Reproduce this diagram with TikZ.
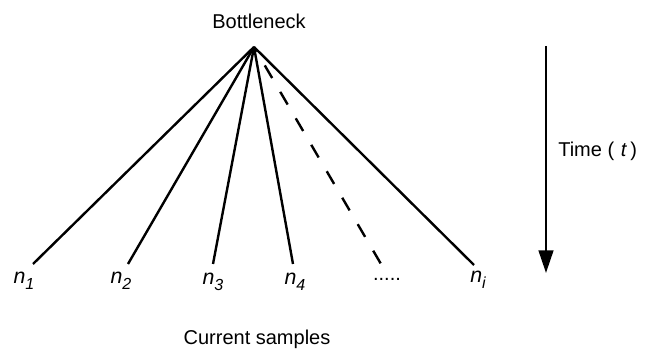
\documentclass[tikz,border=0pt]{standalone}
\usepackage{fontspec}
\setmainfont{Liberation Sans}
\usepackage{tikz}
\usetikzlibrary{arrows.meta, positioning}
\tikzstyle{branch}   = [line width=1.8pt]
\tikzstyle{sample}   = [inner sep=0pt, font=\fontsize{16}{18}\selectfont\itshape]
\tikzstyle{caption}  = [inner sep=0pt, font=\fontsize{15}{17}\selectfont]
\tikzstyle{timearrow} = [line width=1.8pt, -{Triangle[length=17pt,width=11pt]}]
\newcommand{\sampsub}[1]{\raisebox{-4.5pt}{\fontsize{12}{13}\selectfont #1}}

\begin{document}
\begin{tikzpicture}[x=0.75pt, y=-0.75pt]
        \useasboundingbox (0,0) rectangle (647,349);

        \coordinate (apex) at (254,47);
        \node (bottleneck) [caption] at (259,21) {Bottleneck};

        \coordinate (e1) at (33,264);
        \coordinate (e2) at (128,264);
        \coordinate (e3) at (213,264);
        \coordinate (e4) at (293,264);
        \coordinate (ed) at (381,264);
        \coordinate (ei) at (474,265);

        \node (n1) [sample] at (24,281) {n\sampsub{1}};
        \node (n2) [sample] at (121,281) {n\sampsub{2}};
        \node (n3) [sample] at (213,282) {n\sampsub{3}};
        \node (n4) [sample] at (295,282) {n\sampsub{4}};
        \node (dots) [caption] at (387,279) {.....};
        \node (ni) [sample] at (478,280) {n\sampsub{i}};

        \foreach \e in {e1, e2, e3, e4, ei}
            \draw [branch] (apex) -- (\e);
        \draw [branch, dash pattern=on 11pt off 12pt, dash phase=7pt] (apex) -- (ed);

        \node (samples) [caption] at (257,339) {Current samples};

        \coordinate (tstart) at (546,46);
        \coordinate (tend) at (546,273);
        \draw [timearrow] (tstart) -- (tend);
        \node (time) [caption, anchor=west] at (558,151) {Time (\,\,\textit{t}\,)};
    \end{tikzpicture}
\end{document}
